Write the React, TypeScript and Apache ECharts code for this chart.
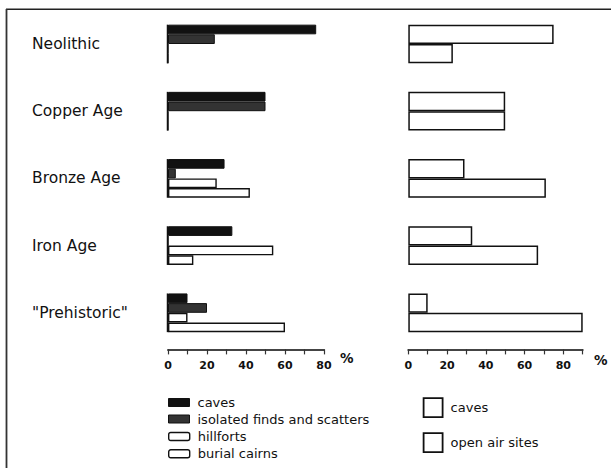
import React, { useEffect, useRef } from "react";
import * as echarts from "echarts";

const categories = ["Neolithic", "Copper Age", "Bronze Age", "Iron Age", '"Prehistoric"'];
const leftCaves = [76, 50, 29, 33, 10];
const isolatedFinds = [24, 50, 4, 0, 20];
const hillforts = [0, 0, 25, 54, 10];
const burialCairns = [0, 0, 42, 13, 60];
const rightCaves = [75, 50, 29, 33, 10];
const openAirSites = [23, 50, 71, 67, 90];

const FONT = "DejaVu Sans";
const INK = "#111";

export default function App() {
  const ref = useRef<HTMLDivElement>(null);
  useEffect(() => {
    if (!ref.current) return;
    const chart = echarts.init(ref.current, null, { renderer: "svg" });
    const whiteBar = { color: "#fff", borderColor: INK, borderWidth: 1.4 };
    const tickFmt = (v: number) => (v % 20 === 0 ? String(v) : "");
    const xAxisCommon = {
      type: "value" as const,
      min: 0,
      interval: 10,
      offset: 3,
      splitLine: { show: false },
      axisLine: { show: true, lineStyle: { color: "#444", width: 2 } },
      axisTick: { show: true, length: 5, lineStyle: { color: "#333", width: 1.2 } },
      axisLabel: {
        formatter: tickFmt,
        fontFamily: FONT,
        fontWeight: "bold" as const,
        fontSize: 11,
        color: INK,
        margin: 11,
      },
    };
    const legendText = { fontFamily: FONT, fontSize: 13, color: INK, padding: [0, 0, 0, 3] };
    const leftLegendItems = [
      { name: "caves", top: 396, itemStyle: { color: INK, borderColor: INK, borderWidth: 1 } },
      { name: "isolated finds and scatters", top: 412.5, itemStyle: { color: "#333", borderColor: INK, borderWidth: 1 } },
      { name: "hillforts", top: 430, icon: "roundRect", itemStyle: whiteBar },
      { name: "burial cairns", top: 447.3, icon: "roundRect", itemStyle: whiteBar },
    ];
    const rightLegendItems = [
      { name: "caves", top: 397.3 },
      { name: "open air sites", top: 432.3 },
    ];
    const legends: any[] = [
      ...leftLegendItems.map((it) => ({
        orient: "vertical",
        left: 168,
        top: it.top,
        padding: 0,
        itemWidth: 21,
        itemHeight: 8,
        icon: it.icon || "rect",
        selectedMode: false,
        textStyle: legendText,
        data: [{ name: it.name, itemStyle: it.itemStyle }],
      })),
      ...rightLegendItems.map((it) => ({
        orient: "vertical",
        left: 422.7,
        top: it.top,
        padding: 0,
        itemWidth: 19,
        itemHeight: 19,
        icon: "rect",
        selectedMode: false,
        textStyle: legendText,
        data: [{ name: it.name, itemStyle: { color: "#fff", borderColor: INK, borderWidth: 1.8 } }],
      })),
    ];
    chart.setOption({
      animation: false,
      backgroundColor: "#fff",
      grid: [
        { left: 168, width: 156, top: 10.4, height: 336 },
        { left: 408.3, width: 174.4, top: 10.4, height: 336 },
      ],
      xAxis: [
        { ...xAxisCommon, gridIndex: 0, max: 80 },
        { ...xAxisCommon, gridIndex: 1, max: 90 },
      ],
      yAxis: [
        {
          type: "category",
          gridIndex: 0,
          data: categories,
          inverse: true,
          axisLine: { show: false },
          axisTick: { show: false },
          axisLabel: {
            align: "left",
            margin: 136,
            fontFamily: FONT,
            fontSize: 15.5,
            color: INK,
          },
        },
        {
          type: "category",
          gridIndex: 1,
          data: categories,
          inverse: true,
          axisLine: { show: false },
          axisTick: { show: false },
          axisLabel: { show: false },
        },
      ],
      legend: legends,
      series: [
        {
          type: "bar",
          name: "caves",
          xAxisIndex: 0,
          yAxisIndex: 0,
          data: leftCaves,
          barGap: "0%",
          barCategoryGap: "42.4%",
          itemStyle: { color: INK, borderColor: INK, borderWidth: 1 },
        },
        {
          type: "bar",
          name: "isolated finds and scatters",
          xAxisIndex: 0,
          yAxisIndex: 0,
          data: isolatedFinds,
          barGap: "0%",
          barCategoryGap: "42.4%",
          itemStyle: { color: "#333", borderColor: INK, borderWidth: 1 },
        },
        {
          type: "bar",
          name: "hillforts",
          xAxisIndex: 0,
          yAxisIndex: 0,
          data: hillforts,
          barGap: "0%",
          barCategoryGap: "42.4%",
          itemStyle: whiteBar,
        },
        {
          type: "bar",
          name: "burial cairns",
          xAxisIndex: 0,
          yAxisIndex: 0,
          data: burialCairns,
          barGap: "0%",
          barCategoryGap: "42.4%",
          itemStyle: whiteBar,
        },
        {
          type: "custom",
          name: "baseline",
          xAxisIndex: 0,
          yAxisIndex: 0,
          z: 5,
          silent: true,
          encode: { x: 0, y: 1 },
          data: categories.map((c) => [0, c]),
          renderItem: (params: any, api: any) => {
            const p = api.coord([0, api.value(1)]);
            const band = api.size([0, 1])[1];
            const h = (band * 0.576) / 2;
            return {
              type: "line",
              shape: { x1: p[0] - 0.5, y1: p[1] - h, x2: p[0] - 0.5, y2: p[1] + h },
              style: { stroke: INK, lineWidth: 1.5 },
            };
          },
        },
        {
          type: "bar",
          name: "caves",
          xAxisIndex: 1,
          yAxisIndex: 1,
          data: rightCaves,
          barGap: "0%",
          barCategoryGap: "42.4%",
          itemStyle: { color: "#fff", borderColor: INK, borderWidth: 1.5 },
        },
        {
          type: "bar",
          name: "open air sites",
          xAxisIndex: 1,
          yAxisIndex: 1,
          data: openAirSites,
          barGap: "0%",
          barCategoryGap: "42.4%",
          itemStyle: { color: "#fff", borderColor: INK, borderWidth: 1.5 },
        },
      ],
      graphic: [
        { type: "line", shape: { x1: 6, y1: 9.3, x2: 611, y2: 9.3 }, style: { stroke: "#222", lineWidth: 1.5 } },
        { type: "line", shape: { x1: 6.5, y1: 9, x2: 6.5, y2: 468 }, style: { stroke: "#333", lineWidth: 1.8 } },
        {
          type: "text",
          x: 340,
          y: 358,
          style: { text: "%", fontFamily: FONT, fontWeight: "bold", fontSize: 13.5, fill: INK, verticalAlign: "middle" },
        },
        {
          type: "text",
          x: 594,
          y: 359.5,
          style: { text: "%", fontFamily: FONT, fontWeight: "bold", fontSize: 13.5, fill: INK, verticalAlign: "middle" },
        },
      ],
    });
    return () => chart.dispose();
  }, []);
  return (
    <div
      ref={ref}
      style={{ position: "fixed", left: 0, top: 0, width: 611, height: 468, background: "#fff" }}
    />
  );
}
